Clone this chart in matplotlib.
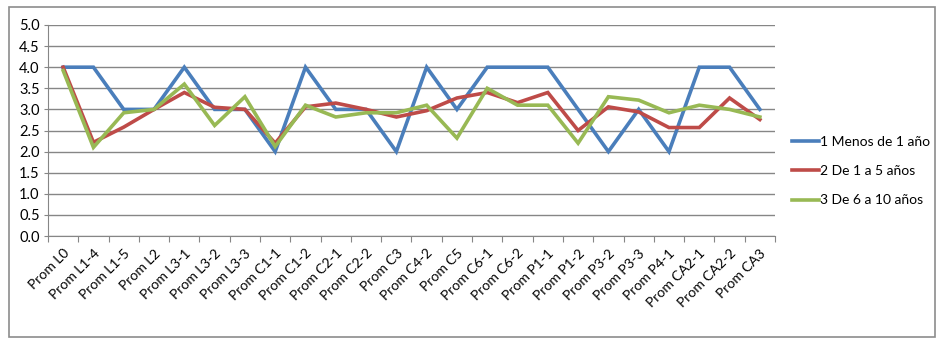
import matplotlib
matplotlib.use("Agg")
import matplotlib.pyplot as plt
from matplotlib.patches import Rectangle

categories = ["Prom L0", "Prom L1-4", "Prom L1-5", "Prom L2", "Prom L3-1",
              "Prom L3-2", "Prom L3-3", "Prom C1-1", "Prom C1-2", "Prom C2-1",
              "Prom C2-2", "Prom C3", "Prom C4-2", "Prom C5", "Prom C6-1",
              "Prom C6-2", "Prom P1-1", "Prom P1-2", "Prom P3-2", "Prom P3-3",
              "Prom P4-1", "Prom CA2-1", "Prom CA2-2", "Prom CA3"]

menos_1 = [4.0, 4.0, 3.0, 3.0, 4.0, 3.0, 3.0, 2.0, 4.0, 3.0, 3.0, 2.0,
           4.0, 3.0, 4.0, 4.0, 4.0, 3.0, 2.0, 3.0, 2.0, 4.0, 4.0, 3.0]
de_1_a_5 = [4.0, 2.22, 2.58, 3.0, 3.4, 3.05, 3.0, 2.2, 3.06, 3.15, 3.0, 2.82,
            2.97, 3.27, 3.4, 3.16, 3.4, 2.5, 3.06, 2.94, 2.57, 2.57, 3.27, 2.76]
de_6_a_10 = [3.92, 2.1, 2.92, 3.0, 3.6, 2.62, 3.3, 2.12, 3.1, 2.82, 2.92, 2.92,
             3.1, 2.32, 3.5, 3.1, 3.1, 2.2, 3.3, 3.22, 2.92, 3.1, 3.0, 2.82]

series = [("1 Menos de 1 año", menos_1, "#4A7EBB"),
          ("2 De 1 a 5 años", de_1_a_5, "#BE4B48"),
          ("3 De 6 a 10 años", de_6_a_10, "#98B954")]

plt.rcParams['font.family'] = ['Lato', 'DejaVu Sans']

fig = plt.figure(figsize=(9.45, 3.44), dpi=100)
ax = fig.add_axes([48 / 945, 1 - 236 / 344, (775 - 48) / 945, (236 - 25) / 344])

# outer chart border
fig.patches.append(Rectangle((9 / 945, 7 / 344), 926 / 945, 330 / 344,
                             transform=fig.transFigure, fill=False,
                             edgecolor="#8C8C8C", linewidth=1.2))

x = list(range(len(categories)))
for label, values, color in series:
    ax.plot(x, values, color=color, linewidth=2.6, label=label,
            solid_joinstyle="miter")

ax.set_xlim(-0.5, len(categories) - 0.5)
ax.set_ylim(0, 5)
ax.set_yticks([i * 0.5 for i in range(11)])
ax.set_yticklabels(["%.1f" % (i * 0.5) for i in range(11)], fontsize=10.5)
ax.yaxis.grid(True, color="#868686", linewidth=1.0)
ax.set_axisbelow(True)

ax.set_xticks([i - 0.5 for i in range(len(categories) + 1)], minor=False)
ax.set_xticklabels([])
ax.set_xticks(x, minor=True)
ax.set_xticklabels(categories, minor=True, rotation=45, ha="right",
                   rotation_mode="anchor", fontsize=10)
ax.tick_params(axis="x", which="major", length=4, color="#868686")
ax.tick_params(axis="x", which="minor", length=0, pad=8)
ax.tick_params(axis="y", length=3, color="#868686", pad=3)

for side in ["top", "right"]:
    ax.spines[side].set_visible(False)
for side in ["left", "bottom"]:
    ax.spines[side].set_color("#868686")

handles, labels = ax.get_legend_handles_labels()
fig.legend(handles, labels, loc="center left",
           bbox_to_anchor=(792 / 945, 1 - 171 / 344), frameon=False,
           fontsize=10, handlelength=1.95, labelspacing=1.25,
           handletextpad=0.1, borderaxespad=0, borderpad=0)

fig.savefig("out.png", dpi=100)
